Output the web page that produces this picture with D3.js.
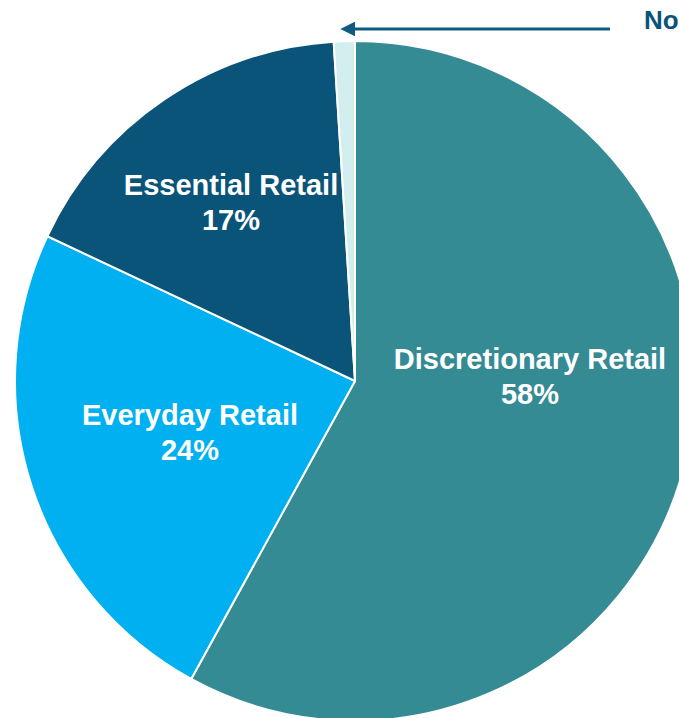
<!DOCTYPE html>
<html>
<head>
<meta charset="utf-8">
<script src="https://cdn.jsdelivr.net/npm/d3@7/dist/d3.min.js"></script>
<style>
  html, body { margin: 0; padding: 0; background: #ffffff; overflow: hidden; }
  svg { display: block; }
</style>
</head>
<body>
<svg id="chart" width="679" height="718"></svg>
<script>
// Retail mix by segment (share of total, %)
const categories = ["Discretionary Retail", "Everyday Retail", "Essential Retail", "Non-Retail"];
const shares = [58, 24, 17, 1];
const colors = ["#358b94", "#00b0f0", "#0a5479", "#d2eeee"];
const showInside = [true, true, true, false];

const width = 679, height = 718;
const cx = 355, cy = 381, radius = 340;

const svg = d3.select("#chart");
const g = svg.append("g").attr("transform", `translate(${cx},${cy})`);

const data = categories.map((c, i) => ({ name: c, value: shares[i], color: colors[i], inside: showInside[i] }));

const pie = d3.pie().value(d => d.value).sort(null);
const arc = d3.arc().innerRadius(0).outerRadius(radius);
const arcs = pie(data);

g.selectAll("path.slice")
  .data(arcs)
  .join("path")
  .attr("class", "slice")
  .attr("d", arc)
  .attr("fill", d => d.data.color)
  .attr("stroke", "#ffffff")
  .attr("stroke-width", 2)
  .attr("stroke-linejoin", "round");

// In-slice labels: name on the first line, share below
const labelPos = {
  "Discretionary Retail": [530, 369],
  "Everyday Retail": [190, 425],
  "Essential Retail": [231, 195]
};
const labels = svg.append("g")
  .attr("font-family", "'Liberation Sans', Arial, sans-serif")
  .attr("font-weight", "bold")
  .attr("font-size", 29)
  .attr("fill", "#ffffff")
  .attr("text-anchor", "middle");

arcs.filter(d => d.data.inside).forEach(d => {
  const [x, y] = labelPos[d.data.name];
  const t = labels.append("text").attr("x", x).attr("y", y);
  t.append("tspan").attr("x", x).text(d.data.name);
  t.append("tspan").attr("x", x).attr("dy", 35).text(d3.format(".0f")(d.data.value) + "%");
});

// Call-out for the thin slice: arrow pointing at its outer edge
const small = arcs[3];
const midAngle = (small.startAngle + small.endAngle) / 2;
const tipX = cx + Math.sin(midAngle) * radius - 4;
const arrowY = 29;
const strokeW = 3;

const defs = svg.append("defs");
defs.append("marker")
  .attr("id", "arrowHead")
  .attr("viewBox", "0 0 10 10")
  .attr("refX", 10 - 4 / (strokeW * 5 / 10))
  .attr("refY", 5)
  .attr("markerWidth", 5)
  .attr("markerHeight", 5)
  .attr("markerUnits", "strokeWidth")
  .attr("orient", "auto")
  .append("path")
  .attr("d", "M0,0 L10,5 L0,10 Z")
  .attr("fill", "#0f5a82");

svg.append("line")
  .attr("x1", 610).attr("y1", arrowY)
  .attr("x2", tipX + 4).attr("y2", arrowY)
  .attr("stroke", "#0f5a82")
  .attr("stroke-width", strokeW)
  .attr("marker-end", "url(#arrowHead)");

svg.append("text")
  .attr("x", 644)
  .attr("y", arrowY)
  .attr("font-family", "'Liberation Sans', Arial, sans-serif")
  .attr("font-weight", "bold")
  .attr("font-size", 26)
  .attr("fill", "#0a5479")
  .text(categories[3] + " " + shares[3] + "%");
</script>
</body>
</html>
